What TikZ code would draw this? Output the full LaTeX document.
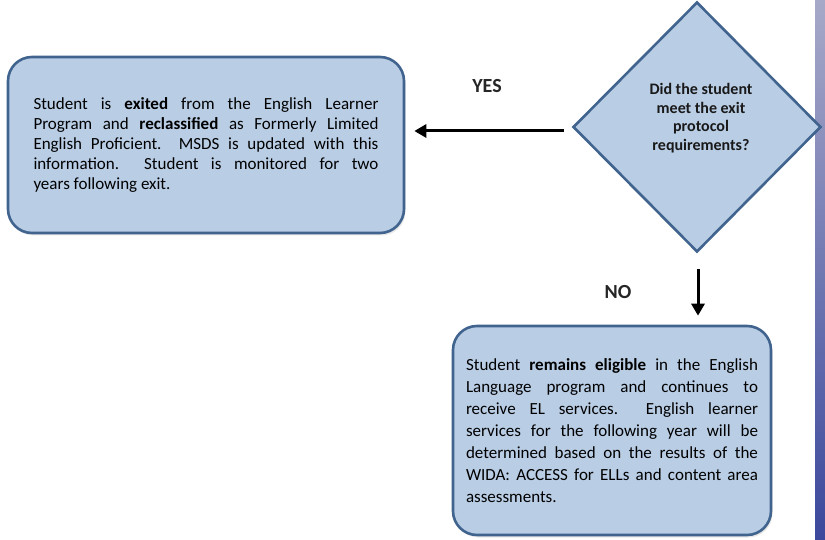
\documentclass[tikz,border=0pt]{standalone}
\usepackage{fontspec}
\setmainfont{Carlito}
\usetikzlibrary{shapes.geometric,arrows.meta,calc,shadows}
\definecolor{boxfill}{HTML}{B9CDE5}
\definecolor{boxline}{HTML}{41648F}
\definecolor{bartop}{HTML}{A7A9C8}
\definecolor{barbot}{HTML}{3B489C}
\begin{document}
\begin{tikzpicture}[x=1pt,y=-1pt,
  rbox/.style={draw=boxline, fill=boxfill, line width=2.6pt, rounded corners=24pt,
    inner sep=0pt, align=justify, text=black,
    drop shadow={opacity=0.18, shadow xshift=1.5pt, shadow yshift=-2.5pt}},
  dbox/.style={draw=boxline, fill=boxfill, line width=2.6pt, shape=diamond, aspect=1,
    inner sep=0pt, minimum width=248pt, minimum height=250pt},
  lbl/.style={font=\fontsize{20}{22}\selectfont\bfseries, text=black!85},
  arr/.style={line width=3pt, -{Triangle[length=12pt,width=13pt]}}]
\useasboundingbox (0,0) rectangle (825,540);
\fill[white] (0,0) rectangle (825,540);
\shade[top color=bartop, bottom color=barbot] (815,0) rectangle (825,540);

\node[rbox, font=\fontsize{17}{20}\selectfont, minimum width=396pt, minimum height=176pt, text width=345pt] (lbox) at (206,145)
 {Student is \textbf{exited} from the English Learner\linebreak
  Program and \textbf{reclassified} as Formerly Limited\linebreak
  English Proficient.\ \ MSDS is updated with this\linebreak
  information.\ \ Student is monitored for two\linebreak
  years following exit.};

\node[dbox] (dia) at (697,127) {};
\node[align=center, font=\fontsize{16}{18.5}\selectfont\bfseries, text=black!90] (dtext) at (701,118)
 {Did the student\\ meet the exit\\ protocol\\ requirements?};

\node[rbox, font=\fontsize{17}{22}\selectfont, minimum width=318pt, minimum height=209pt, text width=292pt] (bbox) at (612,430.5)
 {Student \textbf{remains eligible} in the English\linebreak
  Language program and continues to\linebreak
  receive EL services.\ \ English learner\linebreak
  services for the following year will be\linebreak
  determined based on the results of the\linebreak
  WIDA: ACCESS for ELLs and content area\linebreak
  assessments.};

\node[lbl] (yes) at (487,86) {YES};
\node[lbl] (no) at (618,292) {NO};

\coordinate (ys) at ($(dia.west)+(-8,4)$);
\coordinate (ye) at ($(lbox.east)+(9,-14)$);
\draw[arr] (ys) -- (ye);
\coordinate (ns) at ($(dia.south)+(1,16)$);
\coordinate (ne) at ($(dia.south |- bbox.north)+(1,-9)$);
\draw[arr] (ns) -- (ne);
\end{tikzpicture}
\end{document}
